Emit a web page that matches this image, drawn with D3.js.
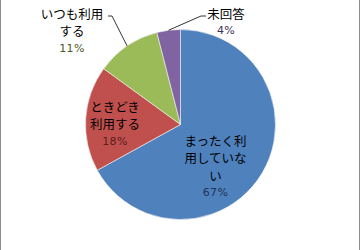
<!DOCTYPE html>
<html><head><meta charset="utf-8">
<script src="https://cdn.jsdelivr.net/npm/d3@7"></script>
<style>body{margin:0;background:#fff}svg{display:block}</style>
</head><body>
<svg id="c" width="361" height="250"></svg>
<script>
const categories = ["まったく利用していない", "ときどき利用する", "いつも利用する", "未回答"];
const values = [67, 18, 11, 4];
const pctLabels = ["67%", "18%", "11%", "4%"];
const colors = ["#4F81BD", "#C0504D", "#9BBB59", "#8064A2"];
const pctColors = ["#1F3355", "#5A1E1C", "#4A5A26", "#3F3151"];
const labelLines = [["まったく利","用していな","い"], ["ときどき","利用する"], ["いつも利用","する"], ["未回答"]];

const svg = d3.select("#c");
const font = "'Noto Sans CJK JP', sans-serif";
svg.append("rect").attr("x",0.5).attr("y",-1).attr("width",359).attr("height",253)
  .attr("fill","none").attr("stroke","#8c8c8c").attr("stroke-width",1);

const cx = 180.5, cy = 124.5, r = 95;
const pie = d3.pie().sort(null).value(d => d);
const arcs = pie(values);
const arc = d3.arc().innerRadius(0).outerRadius(r);
const g = svg.append("g").attr("transform", `translate(${cx},${cy})`);
g.selectAll("path").data(arcs).join("path")
  .attr("d", arc).attr("fill", (d,i) => colors[i])
  .attr("stroke", "#f4f4f4").attr("stroke-width", 0.6);

const pos = [
  {x: 215.5, y: 140},
  {x: 115, y: 106},
  {x: 72, y: 13},
  {x: 226, y: 13}
];
const lh = 17.5;
categories.forEach((c, i) => {
  const p = pos[i];
  const lines = labelLines[i];
  lines.forEach((t, j) => {
    svg.append("text").attr("x", p.x).attr("y", p.y + j*lh)
      .attr("text-anchor", "middle").attr("dominant-baseline","central")
      .attr("font-family", font).attr("font-size", 12.5).attr("fill","#000").text(t);
  });
  svg.append("text").attr("x", p.x).attr("y", p.y + lines.length*lh)
    .attr("text-anchor", "middle").attr("dominant-baseline","central")
    .attr("font-family", "'DejaVu Sans', sans-serif").attr("font-size", 11).attr("letter-spacing", 0.3)
    .attr("fill", pctColors[i]).text(pctLabels[i]);
});

function pt(i){ const a=(arcs[i].startAngle+arcs[i].endAngle)/2; return [cx+Math.sin(a)*r, cy-Math.cos(a)*r]; }
const p2 = pt(2), p3 = pt(3);
svg.append("polyline").attr("points", `${p2[0]},${p2[1]} 112,16 108,16`)
  .attr("fill","none").attr("stroke","#000").attr("stroke-width",0.8);
svg.append("polyline").attr("points", `${p3[0]},${p3[1]} 201,16 206,16`)
  .attr("fill","none").attr("stroke","#000").attr("stroke-width",0.8);
</script>
</body></html>
